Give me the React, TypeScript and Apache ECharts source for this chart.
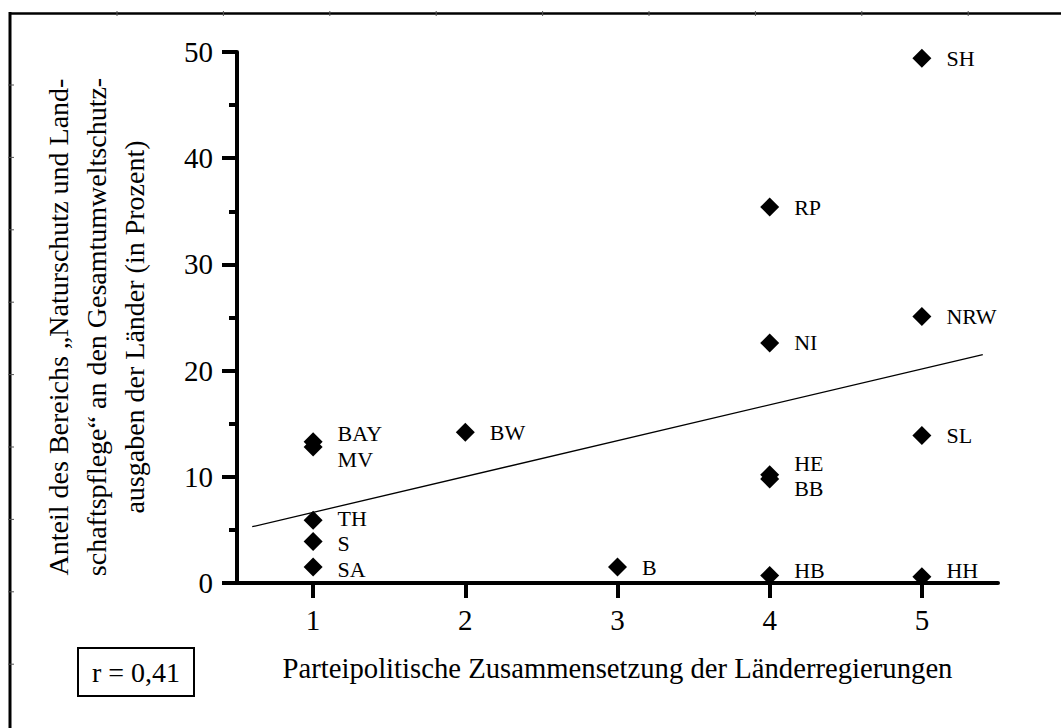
import React, { useEffect, useRef } from "react";
import * as echarts from "echarts";

// ---- data ----
const stateCodes = ["SH", "RP", "NRW", "NI", "SL", "HE", "BB", "BAY", "MV", "BW", "TH", "S", "SA", "B", "HB", "HH"];
const partyComposition = [5, 4, 5, 4, 5, 4, 4, 1, 1, 2, 1, 1, 1, 3, 4, 5];
const natureShare = [49.4, 35.4, 25.1, 22.6, 13.9, 10.2, 9.8, 13.3, 12.8, 14.2, 5.9, 3.9, 1.5, 1.5, 0.7, 0.6];
const xTicks = [1, 2, 3, 4, 5];
const trendStart = [0.6, 5.3];
const trendEnd = [5.4, 21.5];
const correlationText = "r = 0,41";
const xAxisTitle = "Parteipolitische Zusammensetzung der Länderregierungen";
const yAxisTitleLines = [
  "Anteil des Bereichs \u201eNaturschutz und Land-",
  "schaftspflege\u201c an den Gesamtumweltschutz-",
  "ausgaben der Länder (in Prozent)",
];

// label vertical nudges in px (layout only)
const labelNudge: Record<string, number> = { BAY: -8, MV: 12, HE: -11, BB: 10, TH: -2, S: 2, SA: 2, HB: -5, HH: -6 };

const FONT = "Liberation Serif";

export default function App() {
  const ref = useRef<HTMLDivElement>(null);
  useEffect(() => {
    if (!ref.current) return;
    const chart = echarts.init(ref.current, null, { renderer: "svg" });
    const frameGraphics: any[] = [
      { type: "line", shape: { x1: 9, y1: 13.5, x2: 1061, y2: 13.5 }, style: { stroke: "#000", lineWidth: 2.5 } },
      { type: "line", shape: { x1: 10, y1: 12, x2: 10, y2: 728 }, style: { stroke: "#000", lineWidth: 3 } },
    ];
    for (let i = 0; i < 9; i++) {
      const x = 117 + i * 106.4;
      frameGraphics.push({ type: "line", shape: { x1: x, y1: 11, x2: x, y2: 16 }, style: { stroke: "#555", lineWidth: 1 } });
    }
    for (let i = 0; i < 9; i++) {
      const y = 85 + i * 72.4;
      frameGraphics.push({ type: "line", shape: { x1: 8, y1: y, x2: 14, y2: y }, style: { stroke: "#555", lineWidth: 1 } });
    }
    const yTitleX = [58, 96, 134];
    const yTitleGraphics = yAxisTitleLines.map((t, i) => ({
      type: "text",
      x: yTitleX[i],
      y: 327,
      rotation: Math.PI / 2,
      style: { text: t, font: `28px '${FONT}'`, fill: "#000", textAlign: "center", textVerticalAlign: "middle" },
    }));
    chart.setOption({
      animation: false,
      backgroundColor: "#fff",
      grid: { left: 237, top: 52, width: 761, height: 531, containLabel: false },
      xAxis: {
        type: "value",
        min: 0.5,
        max: 5.5,
        interval: 0.5,
        axisLine: { onZero: false, lineStyle: { color: "#000", width: 4 } },
        axisTick: { show: true, customValues: xTicks, length: 15, lineStyle: { color: "#000", width: 4 } },
        axisLabel: { customValues: xTicks, margin: 22, fontSize: 29, fontFamily: FONT, color: "#000" },
        splitLine: { show: false },
        name: xAxisTitle,
        nameLocation: "middle",
        nameGap: 70,
        nameTextStyle: { fontSize: 28.7, fontFamily: FONT, color: "#000" },
      },
      yAxis: {
        type: "value",
        min: 0,
        max: 50,
        interval: 10,
        axisLine: { show: true, onZero: false, lineStyle: { color: "#000", width: 4 } },
        axisTick: { show: true, length: 15, lineStyle: { color: "#000", width: 4 } },
        minorTick: { show: true, splitNumber: 2, length: 8, lineStyle: { color: "#000", width: 4 } },
        axisLabel: { margin: 24, fontSize: 29, fontFamily: FONT, color: "#000" },
        splitLine: { show: false },
        minorSplitLine: { show: false },
      },
      series: [
        {
          type: "line",
          data: [trendStart, trendEnd],
          symbol: "none",
          lineStyle: { color: "#000", width: 1.3 },
          z: 1,
          silent: true,
        },
        {
          type: "scatter",
          symbol: "diamond",
          symbolSize: 19,
          itemStyle: { color: "#000", opacity: 1 },
          z: 3,
          label: {
            show: true,
            position: "right",
            distance: 15,
            formatter: "{b}",
            fontSize: 22,
            fontFamily: FONT,
            color: "#000",
          },
          data: stateCodes.map((c, i) => ({
            name: c,
            value: [partyComposition[i], natureShare[i]],
            label: { offset: [0, labelNudge[c] || 0] },
          })),
        },
      ],
      graphic: [
        ...frameGraphics,
        ...yTitleGraphics,
        { type: "rect", shape: { x: 78, y: 648, width: 116, height: 48 }, style: { fill: "none", stroke: "#000", lineWidth: 2 } },
        {
          type: "text",
          x: 136,
          y: 672,
          style: { text: correlationText, font: `28px '${FONT}'`, fill: "#000", textAlign: "center", textVerticalAlign: "middle" },
        },
      ],
    });
    return () => chart.dispose();
  }, []);
  return <div ref={ref} style={{ position: "absolute", left: 0, top: 0, width: 1061, height: 728, background: "#fff" }} />;
}
